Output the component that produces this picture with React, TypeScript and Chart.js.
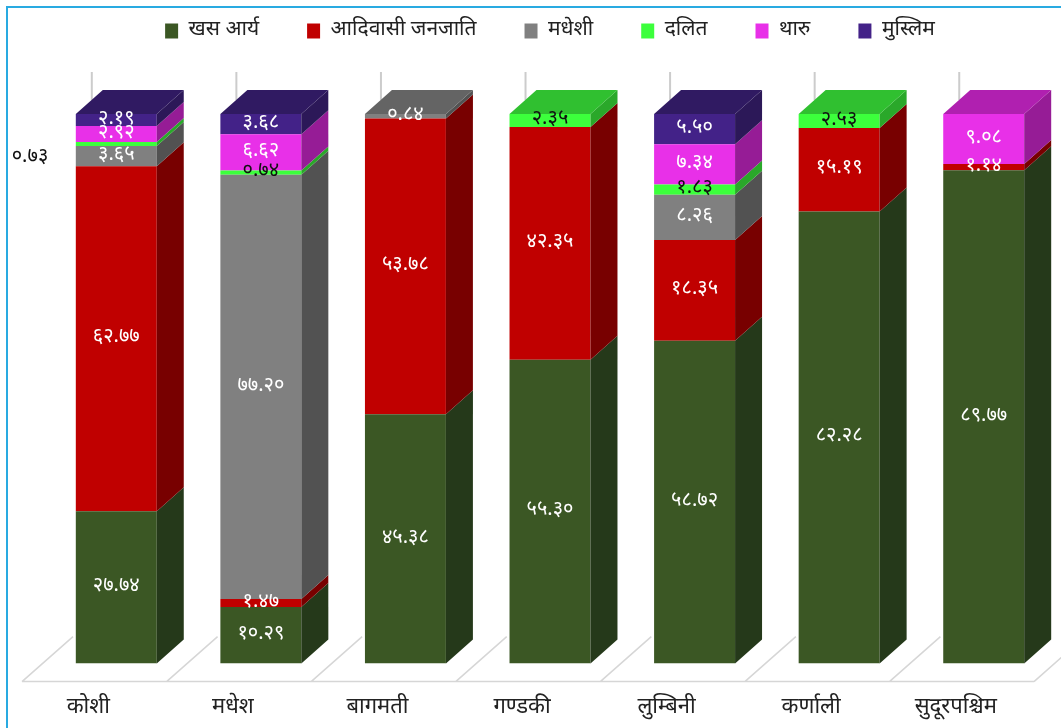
import React, { useEffect, useRef } from "react";
import { Chart, registerables } from "chart.js";

Chart.register(...registerables);

const provinces = ["कोशी", "मधेश", "बागमती", "गण्डकी", "लुम्बिनी", "कर्णाली", "सुदूरपश्चिम"];
const seriesNames = ["खस आर्य", "आदिवासी जनजाति", "मधेशी", "दलित", "थारु", "मुस्लिम"];
const khasArya = [27.74, 10.29, 45.38, 55.3, 58.72, 82.28, 89.77];
const adivasi = [62.77, 1.47, 53.78, 42.35, 18.35, 15.19, 1.14];
const madhesi = [3.65, 77.2, 0.84, null, 8.26, null, null];
const dalit = [0.73, 0.74, null, 2.35, 1.83, 2.53, null];
const tharu = [2.92, 6.62, null, null, 7.34, null, 9.08];
const muslim = [2.19, 3.68, null, null, 5.5, null, null];

const frontColors = ["#3b5724", "#c00000", "#808080", "#3cff3c", "#e830e8", "#432288"];
const sideColors = ["#25391a", "#780000", "#525252", "#2aa82a", "#961c96", "#2c1858"];
const topColors = ["#30481d", "#9a0000", "#646464", "#30c030", "#b020b0", "#301a62"];
const labelColors = ["#ffffff", "#ffffff", "#ffffff", "#111111", "#ffffff", "#ffffff"];

const FONT = "'Noto Sans Devanagari', 'Nirmala UI', 'Mangal', 'Lohit Devanagari', 'FreeSans', sans-serif";
const DX = 27;
const DY = -24;
const LEGEND_PAD = 48;
const LEGEND_FONT = 21;
const PAD_TOP = 31 - LEGEND_FONT / 2 - LEGEND_PAD;

const devDigits = "०१२३४५६७८९";
function toDev(v: number): string {
  return v
    .toFixed(2)
    .split("")
    .map((c) => (c >= "0" && c <= "9" ? devDigits[+c] : c))
    .join("");
}

const threeD = {
  id: "threeD",
  beforeInit(chart: any) {
    const legend = chart.legend;
    if (legend && !legend._patched) {
      const orig = legend.fit;
      legend.fit = function () {
        orig.call(this);
        this.height = 114 - PAD_TOP;
      };
      legend._patched = true;
    }
  },
  beforeDatasetsDraw(chart: any) {
    const ctx = chart.ctx;
    const area = chart.chartArea;
    const n = provinces.length;
    const step = (area.right - area.left) / n;
    const fy = area.bottom + 18;
    ctx.save();
    ctx.strokeStyle = "#d6d6d6";
    ctx.lineWidth = 1.5;
    ctx.beginPath();
    ctx.moveTo(area.left - 22, fy);
    ctx.lineTo(area.right - 22, fy);
    for (let i = 0; i <= n; i++) {
      const b = area.left + step * i - 22;
      ctx.moveTo(b, fy);
      ctx.lineTo(b + 51, fy - 45);
    }
    ctx.stroke();
    ctx.strokeStyle = "#cccccc";
    ctx.lineWidth = 2;
    const meta0 = chart.getDatasetMeta(0);
    meta0.data.forEach((el: any) => {
      const x = el.x - el.width / 2 + 16;
      ctx.beginPath();
      ctx.moveTo(x, area.top - 42);
      ctx.lineTo(x, area.top - 14);
      ctx.stroke();
    });
    ctx.restore();
  },
  afterDatasetsDraw(chart: any) {
    const ctx = chart.ctx;
    const area = chart.chartArea;
    const nSets = chart.data.datasets.length;
    ctx.save();
    for (let d = 0; d < nSets; d++) {
      const meta = chart.getDatasetMeta(d);
      const vals = chart.data.datasets[d].data;
      meta.data.forEach((el: any, i: number) => {
        if (vals[i] == null) return;
        const r = el.x + el.width / 2;
        const top = Math.min(el.y, el.base);
        const bot = Math.max(el.y, el.base);
        ctx.fillStyle = sideColors[d];
        ctx.beginPath();
        ctx.moveTo(r, top);
        ctx.lineTo(r + DX, top + DY);
        ctx.lineTo(r + DX, bot + DY);
        ctx.lineTo(r, bot);
        ctx.closePath();
        ctx.fill();
      });
    }
    const nCat = provinces.length;
    for (let i = 0; i < nCat; i++) {
      let topD = -1;
      for (let d = nSets - 1; d >= 0; d--) {
        if (chart.data.datasets[d].data[i] != null) {
          topD = d;
          break;
        }
      }
      if (topD < 0) continue;
      const el: any = chart.getDatasetMeta(topD).data[i];
      const l = el.x - el.width / 2;
      const r = el.x + el.width / 2;
      const t = Math.min(el.y, el.base);
      ctx.fillStyle = topColors[topD];
      ctx.beginPath();
      ctx.moveTo(l, t);
      ctx.lineTo(l + DX, t + DY);
      ctx.lineTo(r + DX, t + DY);
      ctx.lineTo(r, t);
      ctx.closePath();
      ctx.fill();
    }
    ctx.font = `20px ${FONT}`;
    ctx.textAlign = "center";
    ctx.textBaseline = "middle";
    for (let d = 0; d < nSets; d++) {
      const meta = chart.getDatasetMeta(d);
      const vals = chart.data.datasets[d].data;
      meta.data.forEach((el: any, i: number) => {
        const v = vals[i];
        if (v == null) return;
        let x = el.x;
        let y = (el.y + el.base) / 2;
        let color = labelColors[d];
        if (d === 3 && i === 0) {
          x = area.left - 14;
          y = y + 14;
          color = "#111111";
        }
        ctx.fillStyle = color;
        ctx.fillText(toDev(v), x, y);
      });
    }
    ctx.restore();
  },
};

export default function App() {
  const ref = useRef<HTMLCanvasElement | null>(null);
  useEffect(() => {
    if (!ref.current) return;
    const series = [khasArya, adivasi, madhesi, dalit, tharu, muslim];
    const chart = new Chart(ref.current, {
      type: "bar",
      data: {
        labels: provinces,
        datasets: series.map((s, k) => ({
          label: seriesNames[k],
          data: s,
          backgroundColor: frontColors[k],
          borderWidth: 0,
          barPercentage: 0.56,
          categoryPercentage: 1,
        })),
      },
      options: {
        animation: false,
        responsive: false,
        maintainAspectRatio: false,
        layout: { padding: { top: PAD_TOP, left: 44, right: 5, bottom: -26 } },
        plugins: {
          legend: {
            display: true,
            position: "top",
            labels: {
              color: "#222",
              boxWidth: 13,
              boxHeight: 15,
              padding: LEGEND_PAD,
              font: { family: FONT, size: LEGEND_FONT },
            },
          },
          tooltip: { enabled: false },
        },
        scales: {
          x: {
            stacked: true,
            grid: { display: false, drawTicks: false },
            border: { display: false },
            ticks: {
              color: "#222",
              font: { family: FONT, size: 22 },
              padding: 32,
              labelOffset: -28,
              maxRotation: 0,
            },
          },
          y: {
            stacked: true,
            display: false,
            min: 0,
            max: 100,
          },
        },
      },
      plugins: [threeD],
    } as any);
    return () => chart.destroy();
  }, []);
  return (
    <div style={{ position: "fixed", left: 0, top: 0, width: 1061, height: 728, background: "#fff" }}>
      <div
        style={{
          position: "absolute",
          left: 6,
          top: 6,
          width: 1061,
          height: 728,
          borderLeft: "2px solid #29aae1",
          borderTop: "2px solid #29aae1",
        }}
      />
      <canvas ref={ref} width={1061} height={728} style={{ position: "absolute", left: 0, top: 0 }} />
    </div>
  );
}
